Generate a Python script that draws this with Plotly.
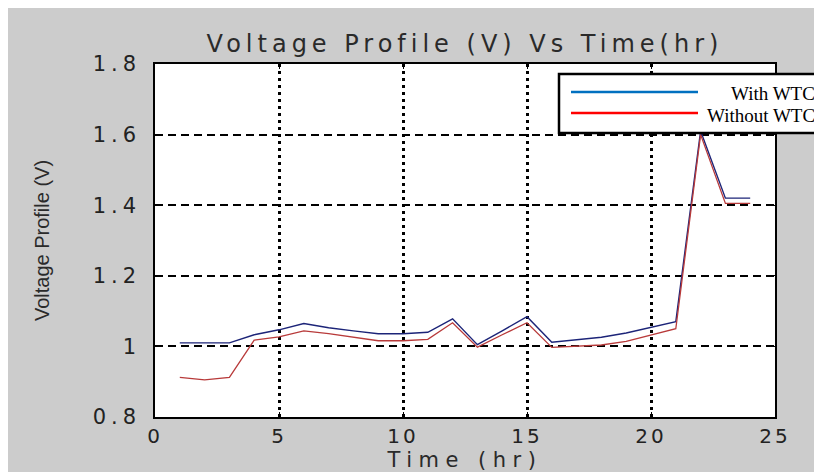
import plotly.graph_objects as go

# ---- data ----
hours = list(range(1, 25))
with_wtc = [1.010, 1.010, 1.010, 1.033, 1.047, 1.065, 1.053, 1.044, 1.036, 1.036,
            1.040, 1.078, 1.005, 1.044, 1.084, 1.012, 1.018, 1.026, 1.038, 1.053,
            1.070, 1.610, 1.420, 1.420]
without_wtc = [0.912, 0.905, 0.912, 1.018, 1.027, 1.044, 1.036, 1.027, 1.016, 1.016,
               1.020, 1.067, 0.998, 1.033, 1.067, 0.997, 1.000, 1.004, 1.014, 1.033,
               1.050, 1.600, 1.405, 1.405]
series_names = ["With WTC", "Without WTC"]
x_ticks = [0, 5, 10, 15, 20, 25]
x_ticktext = ["0", "5", "10", "15", "20", "25"]
y_ticks = [0.8, 1.0, 1.2, 1.4, 1.6, 1.8]
y_ticktext = ["0.8", "1", "1.2", "1.4", "1.6", "1.8"]

OFF = 8  # page body margin offset
W, H = 814 - OFF, 472 - OFF
L, T = 147, 56
R = W - 767
B = H - 409
PW, PH = W - L - R, H - T - B


def px(xp):  # page x pixel -> paper x
    return (xp - OFF - L) / PW


def py(yp):  # page y pixel -> paper y
    return (H - B - (yp - OFF)) / PH


def spaced(s, sp):
    return f'<span style="letter-spacing:{sp}px">{s}</span>'


fig = go.Figure()
fig.add_trace(go.Scatter(x=hours, y=with_wtc, mode="lines", name=series_names[0],
                         line=dict(color="#1c2478", width=1.4), showlegend=False))
fig.add_trace(go.Scatter(x=hours, y=without_wtc, mode="lines", name=series_names[1],
                         line=dict(color="#b83a3a", width=1.3), showlegend=False))

tickfont = dict(family="DejaVu Sans", size=21, color="#222222")
fig.update_layout(
    width=W, height=H,
    margin=dict(l=L, r=R, t=T, b=B, autoexpand=False),
    paper_bgcolor="#cccccc",
    plot_bgcolor="#ffffff",
    title=dict(text=spaced("Voltage Profile (V) Vs Time(hr)", 5),
               font=dict(family="DejaVu Sans", size=24, color="#2a2a2a"),
               x=0.5, xref="paper", xanchor="center",
               y=1 - (44 - OFF) / H, yref="container", yanchor="middle"),
    xaxis=dict(range=[0, 25], tickvals=x_ticks,
               ticktext=[spaced(t, 3) for t in x_ticktext],
               tickfont=dict(family="DejaVu Sans", size=20, color="#222222"),
               ticks="inside", ticklen=5, tickcolor="black",
               showline=True, linecolor="black", linewidth=1.5, mirror="ticks",
               showgrid=True, gridcolor="black", gridwidth=2.5, griddash="3px,4px",
               zeroline=False,
               title=dict(text=spaced("Time (hr)", 6.5),
                          font=dict(family="DejaVu Sans", size=21, color="#2a2a2a"),
                          standoff=0)),
    yaxis=dict(range=[0.8, 1.8], tickvals=y_ticks,
               ticktext=[spaced(t, 5) for t in y_ticktext],
               tickfont=tickfont, ticks="inside", ticklen=5, tickcolor="black",
               ticklabelstandoff=8,
               showline=True, linecolor="black", linewidth=1.5, mirror="ticks",
               showgrid=True, gridcolor="black", gridwidth=2, griddash="8px,5px",
               zeroline=False,
               title=dict(text="Voltage Profile (V)",
                          font=dict(family="Liberation Sans", size=20, color="#2a2a2a"),
                          standoff=38)),
)

# legend box (MATLAB style, clipped at right edge as in the source image)
fig.add_shape(type="rect", xref="paper", yref="paper", x0=px(559), x1=px(814 + 30),
              y0=py(133), y1=py(74), fillcolor="white",
              line=dict(color="black", width=2.5), layer="above")
legend_colors = ["#0070c0", "#ff0000"]
legend_y = [92, 113]
for name, col, yy in zip(series_names, legend_colors, legend_y):
    fig.add_shape(type="line", xref="paper", yref="paper", x0=px(571), x1=px(698),
                  y0=py(yy), y1=py(yy), line=dict(color=col, width=2.5), layer="above")
    fig.add_annotation(text=name, xref="paper", yref="paper", x=px(817), y=py(yy + 2),
                       xanchor="right", yanchor="middle", showarrow=False,
                       font=dict(family="Liberation Serif", size=19, color="black"))

fig.write_html("out.html",
               post_script="document.body.style.overflow='hidden';"
                           "document.body.style.marginRight='0px';"
                           "document.body.style.marginBottom='0px';")
